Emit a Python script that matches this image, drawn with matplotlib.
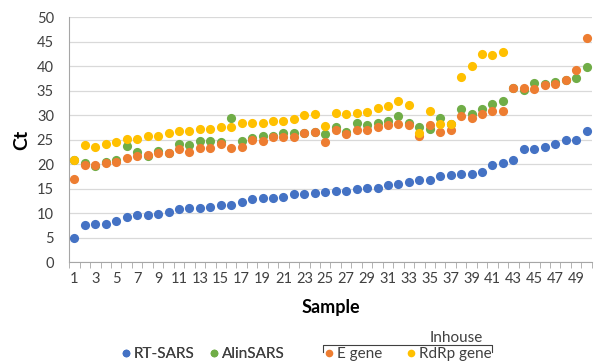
import numpy as np
import matplotlib
matplotlib.use("Agg")
import matplotlib.pyplot as plt
from matplotlib.lines import Line2D

plt.rcParams['font.family'] = ['Lato', 'DejaVu Sans']

samples = np.arange(1, 51)

# Ct values (nan = no point)
rt_sars = [5.0, 7.7, 7.8, 7.8, 8.4, 9.2, 9.7, 9.7, 9.9, 10.3,
           10.9, 11.2, 11.2, 11.4, 11.8, 11.8, 12.4, 12.9, 13.1, 13.1,
           13.3, 13.9, 14.0, 14.2, 14.4, 14.6, 14.6, 14.9, 15.2, 15.2,
           15.9, 16.1, 16.5, 16.8, 16.8, 17.7, 17.9, 18.1, 18.1, 18.4,
           19.9, 20.3, 21.0, 23.2, 23.2, 23.5, 24.2, 25.0, 25.0, 26.9]
alin_sars = [21.0, 20.3, 19.7, 20.5, 20.9, 23.7, 22.5, 21.8, 22.8, 22.4,
             24.2, 24.0, 24.8, 24.8, 24.5, 29.5, 24.8, 25.3, 25.8, 25.8,
             26.5, 26.5, 26.4, 26.7, 26.2, 27.6, 26.6, 28.4, 28.1, 28.4,
             28.8, 29.9, 28.4, 27.6, 27.3, 29.5, 28.2, 31.4, 30.3, 31.3,
             32.4, 33.0, 35.5, 35.1, 36.7, 36.5, 36.8, 37.3, 37.7, 39.8]
e_gene = [17.0, 19.9, 19.9, 20.3, 20.5, 21.4, 21.8, 22.0, 22.4, 22.4,
          23.2, 22.5, 23.4, 23.4, 24.1, 23.4, 23.6, 25.0, 24.8, 25.5,
          25.5, 25.5, 26.4, 26.7, 24.5, 27.1, 26.3, 27.1, 27.1, 27.6,
          28.1, 28.3, 28.1, 25.8, 28.0, 26.6, 27.1, 29.9, 29.4, 30.2,
          31.0, 31.0, 35.6, 35.5, 35.3, 36.2, 36.5, 37.3, 39.3, 45.9]
rdrp_gene = [21.0, 23.9, 23.5, 24.1, 24.6, 25.2, 25.2, 25.9, 25.9, 26.4,
             26.9, 26.9, 27.2, 27.2, 27.6, 27.6, 28.4, 28.4, 28.4, 28.9,
             28.9, 29.3, 30.0, 30.3, 27.9, 30.5, 30.2, 30.4, 30.8, 31.6,
             32.0, 32.9, 32.2, 26.5, 31.0, 28.2, 28.2, 37.9, 40.1, 42.6,
             42.4, 43.0, np.nan, np.nan, np.nan, np.nan, np.nan, np.nan, np.nan, np.nan]

names = ['RT-SARS', 'AlinSARS', 'E gene', 'RdRp gene']
colors = ['#4472C4', '#70AD47', '#ED7D31', '#FFC000']

fig = plt.figure(figsize=(6.02, 3.63), dpi=100)
ax = fig.add_axes([0.115, 0.277, 0.868, 0.675])

for vals, col in zip([rt_sars, alin_sars, e_gene, rdrp_gene], colors):
    ax.plot(samples, vals, 'o', color=col, markersize=6.6, markeredgewidth=0, zorder=3)

ax.set_xlim(0.5, 50.5)
ax.set_ylim(0, 50)
ax.set_yticks(range(0, 51, 5))
ax.grid(axis='y', color='#D9D9D9', linewidth=0.9)
ax.set_axisbelow(True)

# odd labels only, tick marks on category boundaries
ax.set_xticks(samples[::2])
ax.set_xticklabels([str(s) for s in samples[::2]])
ax.set_xticks(np.arange(0.5, 51, 1), minor=True)
ax.tick_params(axis='x', which='major', length=0, pad=7)
ax.tick_params(axis='x', which='minor', length=4, color='#A6A6A6')
ax.tick_params(axis='y', length=0, pad=11)
ax.tick_params(labelsize=10.5, labelcolor='#404040')

for s in ['top', 'right']:
    ax.spines[s].set_visible(False)
ax.spines['left'].set_color('#A6A6A6')
ax.spines['bottom'].set_color('#A6A6A6')

ax.set_xlabel('Sample', fontsize=13, fontweight='bold', labelpad=9)
ax.set_ylabel('Ct', fontsize=14, fontweight='bold', labelpad=5)

def handles(idx):
    return [Line2D([], [], marker='o', linestyle='', color=colors[i],
                   markersize=5.5, markeredgewidth=0) for i in idx]

leg1 = fig.legend(handles([0, 1]), names[:2], loc='center', ncol=2,
                  bbox_to_anchor=(0.337, 0.025), frameon=False, fontsize=11,
                  handletextpad=0.2, columnspacing=1.0, handlelength=0.6,
                  labelcolor='#404040')
fig.add_artist(leg1)
fig.legend(handles([2, 3]), names[2:], loc='center', ncol=2,
           bbox_to_anchor=(0.678, 0.025), frameon=False, fontsize=11,
           handletextpad=0.2, columnspacing=1.6, handlelength=0.6,
           labelcolor='#404040')

# bracket over the in-house assays
bx = [0.5365, 0.5365, 0.817, 0.817]
by = [0.030, 0.050, 0.050, 0.030]
fig.add_artist(Line2D(bx, by, color='#404040', linewidth=0.8))
fig.text(0.758, 0.050, 'Inhouse', ha='center', va='bottom', fontsize=11, color='#404040')

fig.savefig('out.png', dpi=100)
